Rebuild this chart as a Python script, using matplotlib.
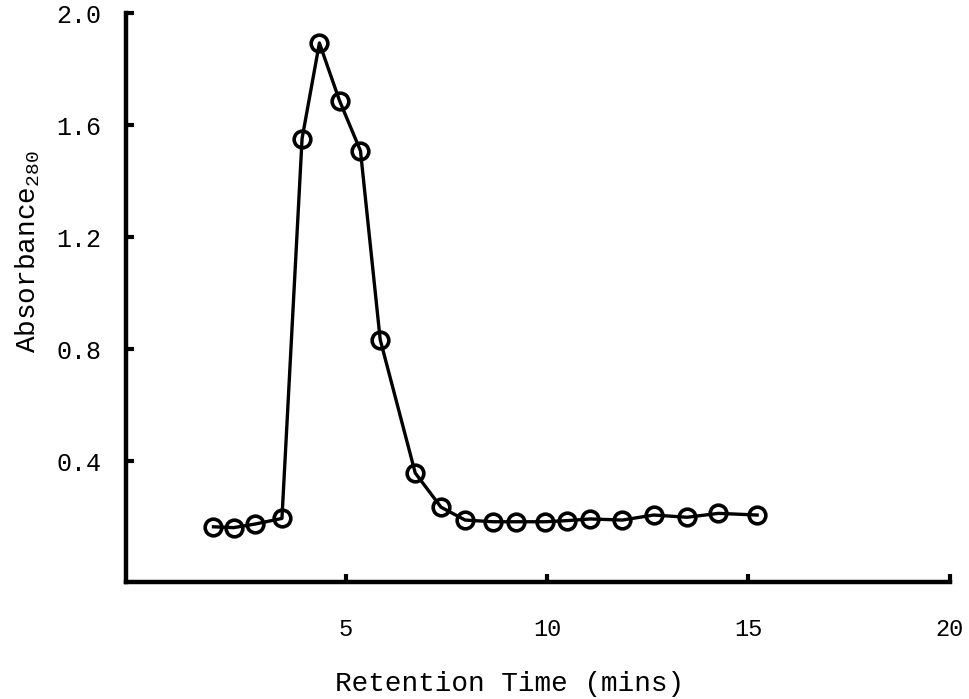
import numpy as np
import matplotlib
matplotlib.use('Agg')
import matplotlib.pyplot as plt

# retention time (mins) and absorbance at 280 nm
ret_time = [1.72, 2.22, 2.76, 3.42, 3.92, 4.35, 4.85, 5.37, 5.86, 6.73, 7.37,
            7.97, 8.67, 9.22, 9.96, 10.50, 11.08, 11.87, 12.65, 13.48, 14.26, 15.22]
absorb   = [0.166, 0.163, 0.176, 0.196, 1.552, 1.893, 1.687, 1.508, 0.834, 0.358, 0.236,
            0.190, 0.184, 0.184, 0.184, 0.188, 0.194, 0.190, 0.208, 0.200, 0.214, 0.208]

xticks = [5, 10, 15, 20]
yticks = [0.4, 0.8, 1.2, 1.6, 2.0]
ytick_labels = ['0.4', '0.8', '1.2', '1.6', '2.0']

plt.rcParams['font.family'] = ['Liberation Mono', 'DejaVu Sans Mono']
plt.rcParams['mathtext.fontset'] = 'custom'
plt.rcParams['mathtext.rm'] = 'Liberation Mono'
plt.rcParams['mathtext.it'] = 'Liberation Mono'

fig = plt.figure(figsize=(9.7, 6.99), dpi=100)
ax = fig.add_axes([0.130, 0.1674, 0.849, 0.814])

ax.plot(ret_time, absorb, color='k', linewidth=2.4, marker='o', markersize=12,
        markerfacecolor='none', markeredgewidth=2.6, markeredgecolor='k')

ax.set_xlim(-0.45, 20)
ax.set_ylim(-0.031, 2.0)

ax.spines['top'].set_visible(False)
ax.spines['right'].set_visible(False)
ax.spines['left'].set_linewidth(3.2)
ax.spines['bottom'].set_linewidth(3.2)

ax.set_xticks(xticks)
ax.set_xticklabels([str(v) for v in xticks])
ax.set_yticks(yticks)
ax.set_yticklabels(ytick_labels)
ax.tick_params(axis='both', direction='in', length=5.5, width=3.0)
ax.tick_params(axis='y', pad=18, labelsize=18)
ax.tick_params(axis='x', pad=26, labelsize=17)

ax.set_xlabel('Retention Time (mins)', fontsize=20)
ax.xaxis.set_label_coords(0.466, -0.156)
ax.set_ylabel('Absorbance$_{280}$', fontsize=20)
ax.yaxis.set_label_coords(-0.102, 0.58)

fig.savefig('out.png', dpi=100)
